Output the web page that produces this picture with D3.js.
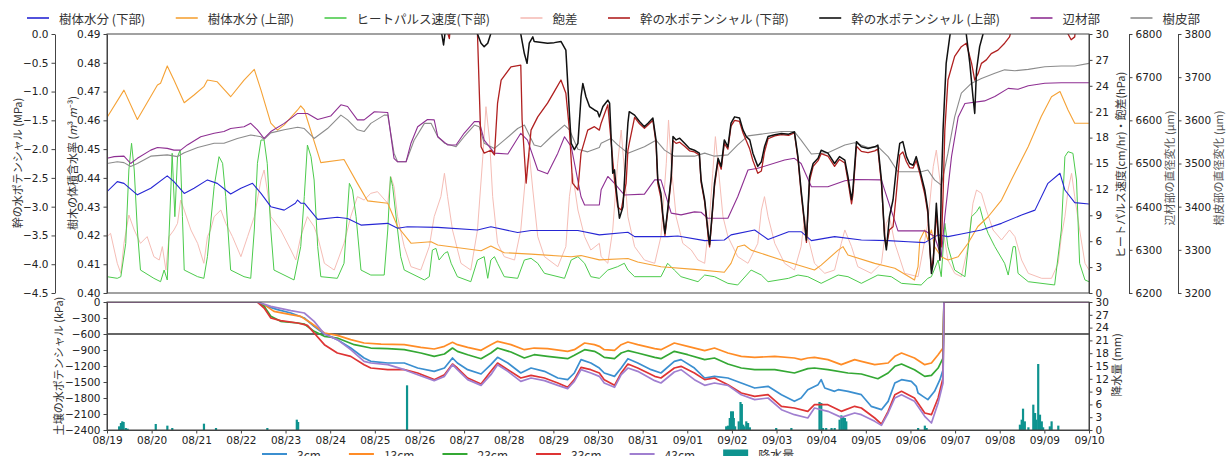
<!DOCTYPE html>
<html>
<head>
<meta charset="utf-8">
<script src="https://cdn.jsdelivr.net/npm/d3@7"></script>
<style>
  body { margin: 0; background: #fff; }
  svg text { font-family: "DejaVu Sans", "Noto Sans CJK JP", sans-serif; }
</style>
</head>
<body>
<div id="chart"></div>
<script>
// ---- data (t = days since 08/19 00:00) ----
const dayLabels = ["08/19","08/20","08/21","08/22","08/23","08/24","08/25","08/26","08/27","08/28","08/29","08/30",
  "08/31","09/01","09/02","09/03","09/04","09/05","09/06","09/07","09/08","09/09","09/10"];

// 樹体水分 (下部)  m3/m3
const lowerWc = [[0,0.4352],[0.23,0.4387],[0.38,0.4381],[0.68,0.4341],[0.98,0.4364],[1.35,0.4407],[1.5,0.4387],[1.73,0.4346],
  [1.95,0.4364],[2.25,0.4393],[2.47,0.4381],[2.77,0.4344],[3.0,0.4364],[3.26,0.4381],[3.45,0.4346],[3.67,0.4300],[3.97,0.4288],
  [4.22,0.4312],[4.27,0.4323],[4.34,0.4312],[4.42,0.4312],[4.72,0.4256],[5.16,0.4263],[5.39,0.4259],[5.69,0.4236],[6.29,0.4242],
  [6.51,0.4225],[6.73,0.4230],[7.41,0.4228],[8.30,0.4219],[8.60,0.4230],[9.20,0.4210],[9.50,0.4217],[10.55,0.4217],[11.03,0.4202],
  [11.67,0.4211],[11.82,0.4196],[12.56,0.4196],[12.79,0.4198],[13.39,0.4182],[13.83,0.4184],[13.98,0.4202],[14.51,0.4219],
  [14.81,0.4186],[15.27,0.4213],[15.55,0.4213],[15.78,0.4182],[16.30,0.4196],[16.90,0.4184],[17.50,0.4182],[17.95,0.4178],
  [18.32,0.4175],[18.62,0.4202],[18.84,0.4196],[19.14,0.4205],[19.59,0.4219],[20.04,0.4242],[20.49,0.4271],[20.79,0.4288],
  [21.08,0.4381],[21.35,0.4416],[21.46,0.4358],[21.68,0.4314],[22,0.4309]];

// 樹体水分 (上部)
const upperWc = [[0,0.4610],[0.38,0.4705],[0.68,0.4603],[1.13,0.4723],[1.20,0.4729],[1.35,0.4789],[1.50,0.4740],[1.73,0.4661],
  [1.95,0.4688],[2.17,0.4717],[2.25,0.4740],[2.47,0.4734],[2.77,0.4682],[3.07,0.4740],[3.30,0.4777],[3.45,0.4705],[3.67,0.4590],
  [3.82,0.4566],[3.97,0.4584],[4.27,0.4636],[4.34,0.4650],[4.42,0.4636],[4.79,0.4453],[5.31,0.4464],[5.61,0.4381],[5.84,0.4320],
  [6.29,0.4312],[6.51,0.4231],[6.81,0.4173],[7.26,0.4178],[7.41,0.4167],[8.38,0.4147],[8.60,0.4163],[8.90,0.4140],[9.50,0.4135],
  [10.40,0.4126],[10.62,0.4130],[11.03,0.4115],[11.67,0.4120],[11.89,0.4108],[12.41,0.4091],[13.16,0.4082],[13.83,0.4072],
  [13.98,0.4103],[14.13,0.4161],[14.28,0.4167],[14.43,0.4149],[15.11,0.4115],[15.85,0.4080],[16.00,0.4097],[16.38,0.4149],
  [16.49,0.4161],[16.60,0.4132],[17.20,0.4103],[17.65,0.4086],[18.09,0.4045],[18.17,0.4092],[18.21,0.4184],[18.32,0.4219],
  [18.39,0.4184],[18.47,0.4219],[18.54,0.4161],[18.69,0.4126],[18.84,0.4115],[19.07,0.4126],[19.29,0.4173],[19.51,0.4231],
  [19.74,0.4265],[20.04,0.4323],[20.26,0.4393],[20.64,0.4509],[20.93,0.4613],[21.16,0.4682],[21.35,0.4700],[21.53,0.4636],
  [21.68,0.4590],[22,0.4590]];

// ヒートパルス速度 (下部)  cm/hr
const heatPulse = [[0,1.89],[0.23,1.70],[0.31,1.89],[0.42,5.75],[0.49,14.25],[0.55,17.34],[0.61,14.25],[0.68,7.30],[0.75,2.66],
  [1.05,1.70],[1.20,1.31],[1.28,2.66],[1.35,1.51],[1.43,11.93],[1.46,16.18],[1.52,8.84],[1.58,15.79],[1.64,16.56],[1.69,8.84],
  [1.73,2.66],[2.03,1.89],[2.17,1.70],[2.25,4.21],[2.40,12.32],[2.51,15.79],[2.59,15.02],[2.66,11.16],[2.77,2.66],[3.07,1.89],
  [3.22,1.70],[3.30,7.30],[3.37,15.02],[3.45,17.72],[3.52,17.72],[3.59,15.02],[3.67,7.30],[3.74,2.66],[4.19,1.51],[4.34,5.37],
  [4.42,11.16],[4.49,17.14],[4.57,15.79],[4.64,13.09],[4.72,5.37],[4.79,1.89],[5.16,1.70],[5.31,3.44],[5.43,12.70],[5.50,11.93],
  [5.58,8.84],[5.69,2.66],[5.91,2.08],[6.21,2.08],[6.29,7.30],[6.35,13.47],[6.40,12.32],[6.51,7.30],[6.58,4.21],[6.66,2.66],
  [7.11,1.51],[7.22,1.89],[7.29,4.98],[7.37,5.17],[7.44,3.82],[7.56,4.59],[7.63,4.79],[7.71,3.44],[7.85,1.89],[8.15,1.31],
  [8.30,3.82],[8.45,4.21],[8.53,1.70],[8.60,3.82],[8.68,4.21],[8.75,3.44],[8.90,1.89],[9.20,1.70],[9.35,3.82],[9.50,4.02],
  [9.65,3.44],[9.80,2.28],[10.25,1.70],[10.40,3.82],[10.55,4.21],[10.70,3.44],[10.84,1.89],[11.03,1.70],[11.22,2.66],[11.44,3.05],
  [11.59,3.44],[11.67,2.66],[11.82,1.89],[12.41,1.89],[12.56,3.44],[12.71,2.66],[12.86,1.89],[13.24,1.31],[13.39,2.08],[13.61,1.89],
  [13.91,1.12],[14.13,0.93],[14.43,2.66],[14.66,2.08],[14.81,1.31],[15.27,1.70],[15.48,2.08],[15.70,1.89],[16.00,1.12],[16.38,2.08],
  [16.60,1.89],[16.90,1.12],[17.27,2.08],[17.57,1.89],[17.80,1.12],[18.24,0.93],[18.39,1.70],[18.47,1.89],[18.62,3.82],[18.69,1.89],
  [18.77,8.07],[18.84,5.37],[18.99,2.66],[19.22,1.89],[19.37,8.84],[19.48,9.42],[19.55,10.0],[19.63,8.46],[19.74,6.91],[19.89,5.37],
  [20.11,3.44],[20.19,2.08],[20.30,5.37],[20.35,5.37],[20.41,2.28],[20.64,1.31],[21.23,0.93],[21.38,7.30],[21.46,15.79],[21.53,16.37],
  [21.64,16.18],[21.72,13.09],[21.79,3.44],[21.91,1.51],[22,1.31]];

// 飽差  hPa
const vpd = [[0,6.53],[0.08,6.91],[0.23,3.44],[0.31,2.28],[0.38,5.75],[0.49,9.03],[0.61,7.30],[0.75,5.75],[0.90,6.53],[1.05,4.21],
  [1.17,3.82],[1.24,5.37],[1.32,2.66],[1.39,6.53],[1.50,7.30],[1.58,8.07],[1.65,10.77],[1.73,9.61],[1.88,7.30],[2.03,5.75],[2.17,3.44],
  [2.25,6.53],[2.32,7.30],[2.40,8.84],[2.55,9.61],[2.66,8.07],[2.81,6.53],[3.00,4.21],[3.15,6.53],[3.30,8.84],[3.45,13.09],[3.52,14.25],
  [3.59,11.93],[3.67,8.84],[3.89,7.30],[4.12,4.98],[4.23,3.82],[4.34,6.53],[4.49,8.84],[4.64,7.68],[4.72,6.53],[4.87,3.44],[5.09,2.66],
  [5.31,5.75],[5.46,8.84],[5.61,11.16],[5.76,10.77],[5.91,11.54],[6.06,11.74],[6.29,10.39],[6.36,13.47],[6.43,12.32],[6.51,8.84],
  [6.66,5.37],[6.81,3.05],[7.03,2.66],[7.22,5.37],[7.33,8.84],[7.48,11.16],[7.56,13.86],[7.63,11.16],[7.74,7.30],[7.93,3.44],[8.15,2.66],
  [8.30,7.30],[8.42,15.79],[8.49,21.58],[8.57,17.72],[8.64,11.16],[8.75,5.75],[8.90,4.21],[9.13,3.82],[9.27,7.30],[9.39,14.25],
  [9.46,16.18],[9.54,11.93],[9.65,6.53],[9.80,4.21],[10.10,3.05],[10.28,5.37],[10.36,11.16],[10.43,13.86],[10.55,9.61],[10.70,6.53],
  [10.84,4.98],[11.03,5.75],[11.07,4.21],[11.22,3.44],[11.33,7.30],[11.44,15.02],[11.52,18.88],[11.59,14.25],[11.67,8.84],[11.82,5.37],
  [12.04,3.82],[12.27,3.44],[12.41,6.53],[12.53,15.02],[12.58,20.04],[12.65,14.25],[12.75,8.84],[12.90,5.75],[13.09,4.98],[13.24,3.82],
  [13.39,3.44],[13.50,8.84],[13.57,13.86],[13.63,18.11],[13.70,14.25],[13.80,8.84],[13.91,6.53],[14.13,4.21],[14.36,3.44],[14.58,5.75],
  [14.66,9.61],[14.73,11.16],[14.81,8.84],[14.96,5.75],[15.18,3.44],[15.40,2.66],[15.55,5.37],[15.63,8.84],[15.70,6.53],[15.85,3.44],
  [16.08,2.28],[16.30,2.66],[16.45,5.75],[16.53,7.30],[16.68,5.37],[16.82,3.05],[17.12,2.28],[17.35,3.44],[17.46,8.07],[17.53,8.84],
  [17.65,5.75],[17.87,2.28],[18.17,1.89],[18.39,8.07],[18.51,14.63],[18.58,16.56],[18.66,13.09],[18.73,7.30],[18.84,3.82],[18.99,2.28],
  [19.14,1.89],[19.29,5.37],[19.40,10.39],[19.48,11.93],[19.59,11.54],[19.70,9.61],[19.85,7.30],[20.04,6.14],[20.22,7.30],[20.34,6.53],
  [20.49,3.82],[20.64,2.28],[20.94,1.70],[21.16,1.70],[21.31,3.44],[21.38,6.53],[21.46,8.84],[21.53,11.93],[21.61,13.86],[21.68,11.16],
  [21.79,7.30],[21.91,3.44],[22,2.66]];

// 幹の水ポテンシャル (下部)  MPa (values > 0 run off the top)
const stemPsiLower = [[7.60,0.3],[7.64,0.0],[7.67,-0.08],[7.71,0.3],[8.28,0.3],[8.30,0.0],[8.38,-1.96],[8.45,-2.07],[8.60,-2.02],
  [8.68,-2.10],[8.75,-1.20],[8.83,-0.80],[9.05,-0.57],[9.27,-0.54],[9.30,-1.50],[9.39,-2.59],[9.50,-1.67],[9.65,-1.44],[9.87,-1.20],
  [10.02,-1.00],[10.17,-0.80],[10.28,-1.03],[10.36,-1.67],[10.43,-2.59],[10.55,-2.71],[10.62,-2.07],[10.77,-1.67],[10.92,-1.61],
  [11.03,-1.67],[11.07,-1.55],[11.22,-1.23],[11.29,-1.84],[11.37,-2.54],[11.44,-3.00],[11.52,-3.06],[11.63,-2.59],[11.67,-2.02],
  [11.70,-1.90],[11.82,-1.45],[11.93,-1.56],[12.04,-1.64],[12.12,-1.58],[12.23,-1.50],[12.30,-1.90],[12.34,-2.60],[12.41,-2.85],
  [12.45,-3.18],[12.50,-3.50],[12.56,-3.10],[12.64,-2.52],[12.68,-1.85],[12.75,-1.90],[12.83,-1.88],[12.94,-1.95],[13.05,-2.03],
  [13.16,-2.05],[13.27,-2.10],[13.31,-2.58],[13.39,-2.92],[13.46,-3.45],[13.50,-3.70],[13.54,-3.33],[13.61,-2.65],[13.69,-2.20],
  [13.76,-2.35],[13.83,-1.90],[13.91,-2.00],[13.98,-1.60],[14.06,-1.50],[14.17,-1.52],[14.25,-1.72],[14.32,-1.85],[14.40,-2.00],
  [14.47,-2.20],[14.58,-2.42],[14.66,-2.38],[14.73,-2.05],[14.81,-1.82],[14.96,-1.77],[15.11,-1.75],[15.27,-1.76],[15.40,-1.72],
  [15.48,-2.18],[15.55,-2.76],[15.63,-3.33],[15.67,-3.62],[15.74,-2.55],[15.82,-2.30],[15.93,-2.20],[16.00,-2.08],[16.15,-2.12],
  [16.30,-2.30],[16.41,-2.18],[16.53,-2.24],[16.60,-2.55],[16.68,-2.95],[16.71,-2.80],[16.79,-1.95],[16.90,-2.04],[17.05,-2.06],
  [17.20,-2.03],[17.27,-2.00],[17.35,-2.60],[17.42,-3.50],[17.46,-3.70],[17.53,-3.40],[17.61,-3.35],[17.68,-2.80],[17.76,-2.10],
  [17.83,-2.05],[17.91,-2.22],[17.98,-2.32],[18.06,-2.33],[18.13,-2.20],[18.21,-2.42],[18.32,-2.78],[18.39,-3.12],[18.43,-3.70],
  [18.47,-4.10],[18.51,-3.90],[18.54,-3.60],[18.58,-3.10],[18.62,-3.50],[18.69,-3.70],[18.73,-2.82],[18.77,-1.67],[18.84,-0.80],
  [18.99,-0.39],[19.14,-0.22],[19.25,-0.16],[19.37,-0.51],[19.44,-0.80],[19.52,-0.68],[19.59,-0.51],[19.70,-0.45],[19.81,-0.34],
  [19.96,-0.28],[20.11,-0.16],[20.22,-0.05],[20.34,0.3],[21.50,0.3],[21.53,0.0],[21.60,-0.10],[21.68,-0.05],[21.72,0.3],[22,0.3]];

// 幹の水ポテンシャル (上部)  MPa
const stemPsiUpper = [[7.40,0.3],[7.50,0.0],[7.54,-0.19],[7.57,0.0],[7.62,0.3],[8.25,0.3],[8.30,0.0],[8.38,-0.16],[8.45,-0.22],
  [8.53,-0.16],[8.60,0.01],[8.65,0.3],[9.22,0.3],[9.27,0.0],[9.35,-0.34],[9.41,-0.51],[9.46,-0.16],[9.54,-0.05],[9.57,-0.13],
  [9.87,-0.16],[10.02,-0.15],[10.17,-0.13],[10.28,-0.28],[10.36,-1.38],[10.40,-1.90],[10.47,-2.01],[10.55,-1.90],[10.62,-1.09],
  [10.66,-0.86],[10.73,-1.09],[10.81,-1.26],[10.92,-1.32],[10.99,-1.35],[11.03,-1.44],[11.11,-1.26],[11.22,-1.15],[11.26,-1.20],
  [11.33,-2.42],[11.37,-2.36],[11.41,-2.71],[11.48,-3.20],[11.56,-3.00],[11.63,-2.02],[11.67,-1.55],[11.70,-1.35],[11.82,-1.41],
  [11.93,-1.52],[12.04,-1.61],[12.12,-1.55],[12.23,-1.46],[12.30,-1.84],[12.34,-2.54],[12.41,-2.77],[12.45,-3.12],[12.50,-3.46],
  [12.56,-3.06],[12.64,-2.48],[12.68,-1.78],[12.75,-1.84],[12.83,-1.81],[12.94,-1.90],[13.05,-1.99],[13.16,-2.02],[13.27,-2.07],
  [13.31,-2.54],[13.39,-2.88],[13.46,-3.40],[13.50,-3.66],[13.54,-3.29],[13.61,-2.59],[13.69,-2.16],[13.76,-2.30],[13.83,-1.84],
  [13.91,-1.96],[13.98,-1.55],[14.06,-1.44],[14.17,-1.46],[14.25,-1.67],[14.32,-1.78],[14.40,-1.84],[14.47,-2.07],[14.58,-2.30],
  [14.66,-2.22],[14.73,-1.96],[14.81,-1.78],[14.96,-1.75],[15.11,-1.73],[15.27,-1.74],[15.40,-1.70],[15.48,-2.13],[15.55,-2.71],
  [15.63,-3.29],[15.67,-3.58],[15.74,-2.48],[15.82,-2.25],[15.93,-2.16],[16.00,-2.02],[16.15,-2.07],[16.30,-2.25],[16.41,-2.13],
  [16.53,-2.19],[16.60,-2.48],[16.68,-2.88],[16.71,-2.71],[16.79,-1.87],[16.90,-1.96],[17.05,-1.99],[17.20,-1.96],[17.27,-1.93],
  [17.35,-2.54],[17.42,-3.52],[17.46,-3.75],[17.53,-3.17],[17.61,-2.88],[17.68,-2.36],[17.76,-1.90],[17.83,-1.87],[17.91,-2.13],
  [17.98,-2.25],[18.06,-2.28],[18.13,-2.13],[18.21,-2.36],[18.32,-2.71],[18.39,-3.06],[18.43,-3.64],[18.47,-4.16],[18.51,-3.98],
  [18.54,-3.52],[18.58,-2.94],[18.62,-3.40],[18.66,-3.93],[18.69,-2.71],[18.73,-1.67],[18.80,-0.51],[18.88,-0.05],[18.95,0.3],
  [19.22,0.3],[19.25,0.0],[19.33,-0.51],[19.40,-1.09],[19.44,-1.38],[19.48,-0.63],[19.55,-0.22],[19.63,0.01],[19.70,0.3],[22,0.3]];

// 辺材部 直径変化 μm
const sapwood = [[0,6512],[0.16,6516],[0.38,6517],[0.53,6500],[0.68,6512],[0.98,6531],[1.13,6537],[1.35,6535],[1.50,6531],
  [1.65,6531],[1.80,6543],[2.10,6562],[2.40,6570],[2.62,6574],[2.77,6581],[3.07,6585],[3.22,6593],[3.37,6578],[3.52,6558],
  [3.67,6574],[3.97,6593],[4.27,6616],[4.49,6616],[4.72,6602],[5.01,6610],[5.24,6636],[5.39,6632],[5.61,6601],[5.76,6601],
  [5.99,6620],[6.29,6618],[6.43,6512],[6.51,6504],[6.70,6504],[6.81,6547],[6.96,6585],[7.18,6602],[7.33,6601],[7.41,6562],
  [7.63,6543],[7.82,6543],[8.00,6570],[8.23,6597],[8.34,6597],[8.45,6554],[8.68,6524],[8.98,6522],[9.27,6570],[9.42,6554],
  [9.65,6485],[9.87,6476],[10.10,6524],[10.25,6562],[10.40,6539],[10.62,6423],[10.70,6404],[11.03,6404],[11.07,6439],[11.22,6470],
  [11.37,6454],[11.59,6427],[12.04,6429],[12.27,6462],[12.41,6462],[12.64,6385],[12.86,6381],[13.16,6388],[13.31,6387],
  [13.46,6373],[13.91,6373],[14.13,6423],[14.36,6485],[14.58,6489],[15.18,6508],[15.40,6512],[15.55,6500],[15.78,6446],
  [16.15,6446],[16.53,6460],[16.75,6463],[17.35,6462],[17.42,6439],[17.72,6344],[18.32,6344],[18.54,6331],[18.69,6284],
  [18.77,6377],[18.92,6516],[19.07,6608],[19.22,6639],[19.66,6645],[19.89,6655],[20.19,6674],[20.41,6672],[20.64,6680],
  [21.01,6686],[21.38,6687],[22,6687]];

// 樹皮部 直径変化 μm
const bark = [[0,3500],[0.23,3504],[0.38,3502],[0.53,3493],[0.68,3500],[0.98,3517],[1.35,3520],[1.58,3516],[1.73,3525],
  [2.03,3537],[2.40,3547],[2.62,3547],[2.92,3558],[3.22,3566],[3.45,3562],[3.52,3556],[3.67,3571],[3.97,3578],[4.27,3584],
  [4.42,3581],[4.64,3558],[4.94,3581],[5.24,3612],[5.39,3601],[5.61,3578],[5.76,3574],[5.91,3593],[6.21,3612],[6.29,3612],
  [6.43,3524],[6.51,3504],[6.70,3504],[6.88,3554],[7.11,3593],[7.26,3593],[7.41,3562],[7.56,3547],[7.82,3539],[8.00,3562],
  [8.23,3589],[8.34,3585],[8.45,3547],[8.68,3535],[8.90,3554],[9.20,3581],[9.35,3589],[9.57,3543],[9.72,3539],[9.95,3562],
  [10.25,3589],[10.36,3578],[10.55,3533],[10.77,3527],[11.03,3537],[11.07,3547],[11.29,3558],[11.44,3543],[11.67,3524],
  [12.04,3539],[12.30,3554],[12.49,3531],[12.71,3517],[13.16,3517],[13.39,3524],[13.61,3517],[13.91,3520],[14.13,3543],
  [14.36,3564],[14.66,3568],[15.11,3574],[15.40,3574],[15.55,3554],[15.78,3522],[16.15,3525],[16.53,3543],[16.75,3548],
  [17.05,3537],[17.27,3539],[17.50,3516],[17.72,3481],[18.24,3481],[18.39,3485],[18.54,3462],[18.69,3450],[18.84,3524],
  [18.99,3608],[19.14,3663],[19.37,3686],[19.59,3697],[19.89,3709],[20.11,3717],[20.34,3715],[20.64,3718],[21.01,3724],
  [21.38,3726],[21.68,3726],[22,3732]];

// 土壌の水ポテンシャル kPa
const soil3 = [[0,0],[3.37,0],[3.59,-81],[3.82,-144],[4.12,-206],[4.42,-300],[4.64,-456],[4.87,-600],[5.16,-706],[5.46,-863],
  [5.76,-1050],[5.91,-1113],[6.29,-1144],[6.66,-1144],[6.96,-1238],[7.33,-1300],[7.56,-1238],[7.74,-1050],[7.85,-1144],[8.08,-1269],
  [8.38,-1350],[8.60,-1175],[8.75,-1038],[8.98,-1144],[9.27,-1331],[9.50,-1238],[9.80,-1300],[10.10,-1425],[10.32,-1456],
  [10.47,-1331],[10.62,-1081],[10.84,-1144],[11.03,-1238],[11.14,-1331],[11.37,-1394],[11.52,-1238],[11.67,-1063],[11.89,-1144],
  [12.19,-1269],[12.41,-1331],[12.71,-1113],[12.86,-1081],[13.16,-1238],[13.39,-1425],[13.61,-1394],[13.91,-1425],[14.21,-1519],
  [14.51,-1613],[14.81,-1581],[15.11,-1738],[15.40,-1863],[15.55,-1800],[15.70,-1644],[15.93,-1550],[16.00,-1456],[16.08,-1613],
  [16.30,-1675],[16.38,-1644],[16.60,-1675],[16.90,-1738],[17.12,-1956],[17.35,-2019],[17.50,-1863],[17.65,-1519],[17.80,-1456],
  [18.02,-1488],[18.13,-1581],[18.17,-1706],[18.28,-1769],[18.39,-1831],[18.54,-1675],[18.66,-1456],[18.73,-1269],[18.75,0],[22,0]];
const soil13 = [[0,0],[3.37,0],[3.52,-50],[3.74,-175],[4.12,-238],[4.34,-269],[4.57,-394],[4.87,-581],[5.16,-625],[5.46,-706],
  [5.76,-769],[6.14,-788],[6.66,-800],[7.03,-850],[7.33,-881],[7.56,-831],[7.74,-756],[7.85,-800],[8.08,-850],[8.38,-906],
  [8.60,-800],[8.75,-738],[9.05,-800],[9.35,-894],[9.57,-863],[9.87,-875],[10.32,-925],[10.47,-894],[10.70,-769],[10.92,-800],
  [11.03,-831],[11.14,-894],[11.37,-906],[11.52,-800],[11.67,-750],[11.89,-800],[12.27,-875],[12.41,-894],[12.71,-769],
  [13.01,-831],[13.39,-913],[13.61,-863],[13.91,-956],[14.21,-1019],[14.51,-1038],[14.96,-1019],[15.40,-1050],[15.55,-1081],
  [15.70,-1050],[15.85,-1038],[16.15,-1081],[16.45,-1175],[16.75,-1081],[16.90,-1113],[17.20,-1175],[17.50,-1144],[17.65,-1019],
  [17.80,-956],[18.09,-1050],[18.32,-1175],[18.47,-1144],[18.62,-988],[18.73,-863],[18.75,0],[22,0]];
const soil23 = [[0,0],[3.37,0],[3.52,-81],[3.67,-269],[3.89,-363],[4.27,-394],[4.42,-413],[4.64,-550],[4.87,-644],[5.16,-675],
  [5.54,-800],[5.91,-863],[6.29,-875],[6.66,-894],[7.03,-956],[7.33,-1019],[7.56,-975],[7.74,-863],[7.85,-925],[8.08,-988],
  [8.38,-1063],[8.60,-956],[8.75,-863],[9.05,-938],[9.35,-1050],[9.57,-988],[9.87,-1019],[10.32,-1063],[10.47,-1000],[10.70,-894],
  [10.92,-925],[11.03,-975],[11.14,-1038],[11.37,-1063],[11.52,-956],[11.67,-913],[11.89,-956],[12.27,-1038],[12.41,-1063],
  [12.71,-925],[13.01,-988],[13.39,-1081],[13.61,-1050],[13.91,-1163],[14.21,-1238],[14.51,-1269],[14.96,-1269],[15.40,-1331],
  [15.70,-1250],[15.85,-1238],[16.15,-1269],[16.60,-1331],[16.90,-1350],[17.27,-1438],[17.50,-1331],[17.65,-1206],[17.80,-1163],
  [18.09,-1269],[18.32,-1394],[18.47,-1375],[18.62,-1238],[18.73,-1050],[18.75,0],[22,0]];
const soil33 = [[0,0],[3.37,0],[3.52,-113],[3.67,-300],[3.89,-350],[4.27,-394],[4.49,-438],[4.64,-581],[4.87,-800],[5.16,-956],
  [5.46,-1019],[5.76,-1175],[5.91,-1238],[6.29,-1269],[6.66,-1269],[6.96,-1331],[7.33,-1456],[7.56,-1363],[7.74,-1163],[7.85,-1238],
  [8.08,-1425],[8.38,-1538],[8.60,-1300],[8.75,-1144],[8.98,-1269],[9.27,-1425],[9.50,-1375],[9.80,-1425],[10.10,-1519],
  [10.32,-1600],[10.47,-1456],[10.62,-1225],[10.84,-1269],[11.03,-1331],[11.14,-1456],[11.37,-1563],[11.52,-1331],[11.67,-1163],
  [11.89,-1238],[12.27,-1394],[12.41,-1425],[12.71,-1238],[12.86,-1206],[13.16,-1331],[13.39,-1456],[13.61,-1425],[13.91,-1550],
  [14.21,-1706],[14.51,-1769],[14.81,-1738],[15.11,-1956],[15.40,-1988],[15.70,-2050],[15.85,-1925],[16.15,-1925],[16.45,-2050],
  [16.75,-1956],[16.90,-1988],[17.20,-2175],[17.35,-2288],[17.50,-2050],[17.65,-1738],[17.80,-1675],[18.09,-1800],[18.32,-2081],
  [18.47,-2113],[18.62,-1800],[18.73,-1425],[18.75,0],[22,0]];
const soil43 = [[0,0],[3.37,0],[3.67,-81],[4.12,-163],[4.42,-206],[4.64,-363],[4.87,-600],[5.16,-706],[5.46,-894],[5.76,-1113],
  [5.91,-1144],[6.29,-1175],[6.66,-1269],[6.96,-1363],[7.33,-1475],[7.56,-1394],[7.74,-1175],[7.85,-1269],[8.08,-1456],[8.38,-1563],
  [8.60,-1363],[8.75,-1175],[8.98,-1300],[9.27,-1488],[9.50,-1425],[9.80,-1475],[10.10,-1563],[10.32,-1625],[10.47,-1488],
  [10.62,-1269],[10.84,-1331],[11.03,-1394],[11.14,-1519],[11.37,-1600],[11.52,-1363],[11.67,-1238],[11.89,-1300],[12.27,-1475],
  [12.41,-1519],[12.71,-1313],[12.86,-1269],[13.16,-1456],[13.39,-1563],[13.61,-1519],[13.91,-1563],[14.21,-1738],[14.51,-1831],
  [14.81,-1800],[15.11,-2019],[15.40,-2113],[15.70,-2175],[15.85,-1988],[16.15,-2050],[16.45,-2163],[16.75,-2081],[16.90,-2113],
  [17.20,-2238],[17.35,-2313],[17.50,-2081],[17.65,-1800],[17.80,-1738],[18.09,-1863],[18.32,-2144],[18.47,-2269],[18.62,-1894],
  [18.73,-1519],[18.75,0],[22,0]];

// 降水量 mm (hourly)
const rainDay = [0.27,0.31,0.34,0.37,0.42,0.46,1.09,1.35,1.46,2.17,2.44,3.59,4.25,4.28,6.72,
  13.87,13.91,13.95,13.98,14.02,14.04,14.07,14.15,14.19,14.22,14.25,14.28,14.32,14.36,14.40,14.99,15.33,
  15.96,16.00,16.04,16.11,16.23,16.30,16.41,16.45,16.49,16.53,16.56,18.17,18.32,18.36,
  20.45,20.49,20.52,20.56,20.64,20.75,20.79,20.82,20.86,20.90,20.94,20.97,21.12,21.16,21.31];
const rainMm = [0.86,1.64,2.03,1.88,0.47,0.31,1.41,1.02,0.47,1.48,0.47,0.47,2.42,1.88,10.47,
  0.86,1.02,2.81,4.38,4.38,2.81,0.86,2.03,6.56,6.09,1.25,0.86,2.03,1.64,0.63,0.47,0.47,
  6.56,6.33,0.47,0.47,0.47,0.47,2.42,3.44,3.20,2.81,2.03,0.47,1.02,0.47,
  1.25,2.42,5.00,2.03,0.63,5.94,3.98,2.42,15.47,3.59,2.03,0.63,0.86,2.03,1.02];

const mpaTicks = [0, -0.5, -1, -1.5, -2, -2.5, -3, -3.5, -4, -4.5];
const wcTicks = [0.40, 0.41, 0.42, 0.43, 0.44, 0.45, 0.46, 0.47, 0.48, 0.49];
const rightTicks = [0, 3, 6, 9, 12, 15, 18, 21, 24, 27, 30];
const sapTicks = [6200, 6300, 6400, 6500, 6600, 6700, 6800];
const barkTicks = [3200, 3300, 3400, 3500, 3600, 3700, 3800];
const soilTicks = [0, -300, -600, -900, -1200, -1500, -1800, -2100, -2400];

// ---- layout ----
const width = 1226, height = 456;
const left = 107, right = 1089;
const top1 = 34, bot1 = 293, top2 = 302, bot2 = 430;
const start = new Date(2019, 7, 19);
const toDate = (t) => new Date(start.getTime() + t * 864e5);

const svg = d3.select("#chart").append("svg").attr("width", width).attr("height", height);

const x = d3.scaleTime().domain([toDate(0), toDate(22)]).range([left, right]);
const yWc = d3.scaleLinear().domain([0.40, 0.49]).range([bot1, top1]);
const yMpa = d3.scaleLinear().domain([-4.5, 0]).range([bot1, top1]);
const yRight = d3.scaleLinear().domain([0, 30]).range([bot1, top1]);
const ySap = d3.scaleLinear().domain([6200, 6800]).range([bot1, top1]);
const yBark = d3.scaleLinear().domain([3200, 3800]).range([bot1, top1]);
const ySoil = d3.scaleLinear().domain([-2400, 0]).range([bot2, top2]);
const yRain = d3.scaleLinear().domain([0, 30]).range([bot2, top2]);

const colors = {
  lowerWc: "#2626d4", upperWc: "#f5a236", heat: "#4ccb4c", vpd: "#f5bdb6",
  psiLower: "#b02020", psiUpper: "#111111", sap: "#8e2f92", bark: "#8c8c8c",
  s3: "#3b8fd0", s13: "#ff8c26", s23: "#34a834", s33: "#de3434", s43: "#a07fd0", rain: "#0e938f"
};

svg.append("defs").append("clipPath").attr("id", "clipTop")
  .append("rect").attr("x", left).attr("y", top1).attr("width", right - left).attr("height", bot1 - top1);
svg.select("defs").append("clipPath").attr("id", "clipBot")
  .append("rect").attr("x", left).attr("y", top2).attr("width", right - left).attr("height", bot2 - top2);

function styleAxis(g) {
  g.attr("font-family", "DejaVu Sans").attr("font-size", 10.5);
  g.select(".domain").attr("stroke", "#444");
  g.selectAll(".tick line").attr("stroke", "#444");
  g.selectAll(".tick text").attr("fill", "#222");
}

// ---- top panel ----
const gTop = svg.append("g").attr("clip-path", "url(#clipTop)");
const drawLine = (g, data, y, color, w) =>
  g.append("path").datum(data).attr("fill", "none").attr("stroke", color).attr("stroke-width", w)
    .attr("stroke-linejoin", "round")
    .attr("d", d3.line().x((d) => x(toDate(d[0]))).y((d) => y(d[1])));

drawLine(gTop, vpd, yRight, colors.vpd, 1);
drawLine(gTop, heatPulse, yRight, colors.heat, 1);
drawLine(gTop, upperWc, yWc, colors.upperWc, 1.1);
drawLine(gTop, lowerWc, yWc, colors.lowerWc, 1.1);
drawLine(gTop, bark, yBark, colors.bark, 1.1);
drawLine(gTop, sapwood, ySap, colors.sap, 1.1);
drawLine(gTop, stemPsiLower, yMpa, colors.psiLower, 1.3);
drawLine(gTop, stemPsiUpper, yMpa, colors.psiUpper, 1.5);

svg.append("rect").attr("x", left).attr("y", top1).attr("width", right - left).attr("height", bot1 - top1)
  .attr("fill", "none").attr("stroke", "#444");

svg.append("g").attr("transform", "translate(55,0)")
  .call(d3.axisLeft(yMpa).tickValues(mpaTicks).tickFormat(d3.format(".1f")).tickSize(3.5).tickSizeOuter(0))
  .call(styleAxis);
svg.append("g").attr("transform", `translate(${left},0)`)
  .call(d3.axisLeft(yWc).tickValues(wcTicks).tickFormat(d3.format(".2f")).tickSize(3.5).tickSizeOuter(0))
  .call(styleAxis);
svg.append("g").attr("transform", `translate(${right},0)`)
  .call(d3.axisRight(yRight).tickValues(rightTicks).tickSize(3.5).tickSizeOuter(0))
  .call(styleAxis);
svg.append("g").attr("transform", "translate(1129,0)")
  .call(d3.axisRight(ySap).tickValues(sapTicks).tickFormat(d3.format("d")).tickSize(3.5).tickSizeOuter(0))
  .call(styleAxis);
svg.append("g").attr("transform", "translate(1178,0)")
  .call(d3.axisRight(yBark).tickValues(barkTicks).tickFormat(d3.format("d")).tickSize(3.5).tickSizeOuter(0))
  .call(styleAxis);

// ---- bottom panel ----
const gBot = svg.append("g").attr("clip-path", "url(#clipBot)");
gBot.selectAll(".rain").data(rainDay).join("rect")
  .attr("x", (d) => x(toDate(d)) - 1)
  .attr("width", 2.2)
  .attr("y", (d, i) => yRain(rainMm[i]))
  .attr("height", (d, i) => yRain(0) - yRain(rainMm[i]))
  .attr("fill", colors.rain);

gBot.append("line").attr("x1", left).attr("x2", right).attr("y1", ySoil(-600)).attr("y2", ySoil(-600))
  .attr("stroke", "#333").attr("stroke-width", 1.5);

const soilSeries = [
  { name: "3cm", data: soil3, color: colors.s3 },
  { name: "13cm", data: soil13, color: colors.s13 },
  { name: "23cm", data: soil23, color: colors.s23 },
  { name: "33cm", data: soil33, color: colors.s33 },
  { name: "43cm", data: soil43, color: colors.s43 },
];
soilSeries.forEach((s) => drawLine(gBot, s.data, ySoil, s.color, 1.7));

svg.append("rect").attr("x", left).attr("y", top2).attr("width", right - left).attr("height", bot2 - top2)
  .attr("fill", "none").attr("stroke", "#444");

svg.append("g").attr("transform", `translate(${left},0)`)
  .call(d3.axisLeft(ySoil).tickValues(soilTicks).tickFormat(d3.format("d")).tickSize(3.5).tickSizeOuter(0))
  .call(styleAxis);
svg.append("g").attr("transform", `translate(${right},0)`)
  .call(d3.axisRight(yRain).tickValues(rightTicks).tickSize(3.5).tickSizeOuter(0))
  .call(styleAxis);
svg.append("g").attr("transform", `translate(0,${bot2})`)
  .call(d3.axisBottom(x).tickValues(dayLabels.map((d, i) => toDate(i)))
    .tickFormat((d, i) => dayLabels[i]).tickSize(3.5).tickSizeOuter(0))
  .call(styleAxis);

// ---- axis titles ----
const jp = "'Noto Sans CJK JP', sans-serif";
function vLabel(cx, cy, txt, color) {
  return svg.append("text").attr("transform", `translate(${cx},${cy}) rotate(-90)`)
    .attr("text-anchor", "middle").attr("dominant-baseline", "central")
    .style("font-family", jp).style("font-size", "11px").attr("fill", color || "#333").text(txt);
}
vLabel(17, 163, "幹の水ポテンシャル (MPa)");
const wcLab = vLabel(72, 163, "");
wcLab.append("tspan").text("樹木の体積含水率 (");
wcLab.append("tspan").style("font-style", "italic").text("m");
wcLab.append("tspan").text("³ ");
wcLab.append("tspan").style("font-style", "italic").text("m");
wcLab.append("tspan").text("⁻³)");
vLabel(1120, 165, "ヒートパルス速度(cm/hr)・飽差(hPa)");
vLabel(1169, 168, "辺材部の直径変化 (μm)", "#555");
vLabel(1218, 168, "樹皮部の直径変化 (μm)", "#555");
vLabel(58, 366, "土壌の水ポテンシャル (kPa)");
vLabel(1116, 365, "降水量 (mm)");

// ---- legends ----
const topLegend = [
  { name: "樹体水分 (下部)", color: colors.lowerWc },
  { name: "樹体水分 (上部)", color: colors.upperWc },
  { name: "ヒートパルス速度(下部)", color: colors.heat },
  { name: "飽差", color: colors.vpd },
  { name: "幹の水ポテンシャル (下部)", color: colors.psiLower },
  { name: "幹の水ポテンシャル (上部)", color: colors.psiUpper },
  { name: "辺材部", color: colors.sap },
  { name: "樹皮部", color: colors.bark },
];
const legTop = svg.append("g");
const topTexts = topLegend.map((d) =>
  legTop.append("text").attr("y", 18).attr("dominant-baseline", "central")
    .style("font-family", jp).style("font-size", "12.5px").attr("fill", "#333").text(d.name));
const topWidths = topTexts.map((t) => t.node().getComputedTextLength());
const lineLen = 22, lineGap = 10, x0 = 27, x1 = 1200;
const spacing = (x1 - x0 - d3.sum(topWidths) - topLegend.length * (lineLen + lineGap)) / (topLegend.length - 1);
let cx = x0;
topLegend.forEach((d, i) => {
  legTop.append("line").attr("x1", cx).attr("x2", cx + lineLen).attr("y1", 18).attr("y2", 18)
    .attr("stroke", d.color).attr("stroke-width", 1.6);
  topTexts[i].attr("x", cx + lineLen + lineGap);
  cx += lineLen + lineGap + topWidths[i] + spacing;
});

const legBot = svg.append("g");
let bx = 262;
const by = 454;
soilSeries.forEach((s) => {
  legBot.append("line").attr("x1", bx).attr("x2", bx + 25).attr("y1", by).attr("y2", by)
    .attr("stroke", s.color).attr("stroke-width", 2);
  const t = legBot.append("text").attr("x", bx + 35).attr("y", by).attr("dominant-baseline", "central")
    .style("font-family", jp).style("font-size", "12px").attr("fill", "#333").text(s.name);
  bx += 35 + t.node().getComputedTextLength() + 28;
});
legBot.append("rect").attr("x", bx).attr("y", by - 4.5).attr("width", 25).attr("height", 9).attr("fill", colors.rain);
legBot.append("text").attr("x", bx + 35).attr("y", by).attr("dominant-baseline", "central")
  .style("font-family", jp).style("font-size", "12px").attr("fill", "#333").text("降水量");
</script>
</body>
</html>
